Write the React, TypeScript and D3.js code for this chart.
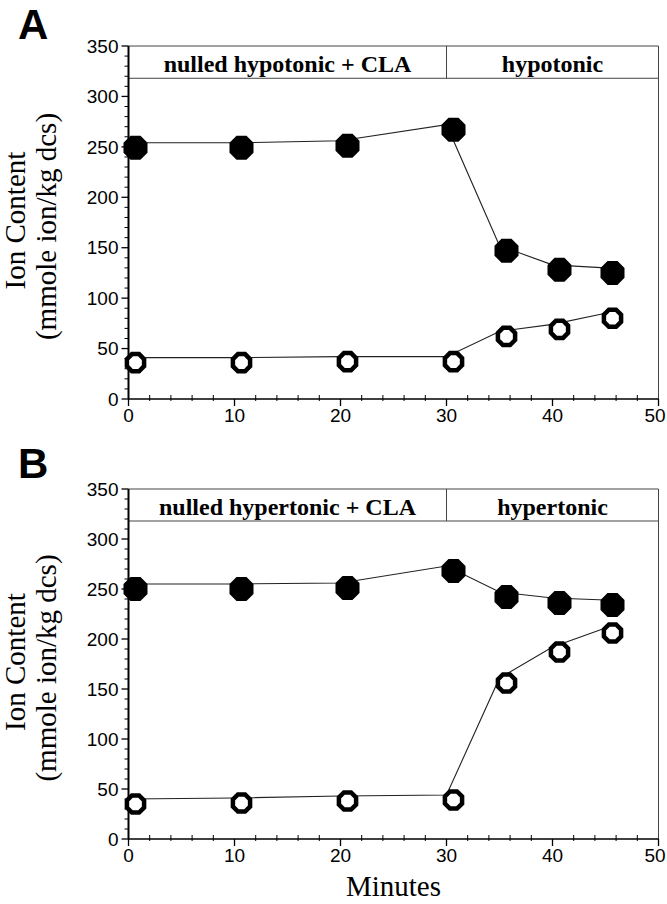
import React from "react";
import * as d3 from "d3";

// ---- data ----
const minutes = [0, 10, 20, 30, 35, 40, 45];
const panelAFilled = [254, 254, 256, 272, 152, 133, 130];
const panelAOpen = [41, 41, 42, 42, 67, 74, 85];
const panelBFilled = [255, 255, 256, 273, 247, 241, 239];
const panelBOpen = [40, 41, 43, 44, 161, 192, 211];
const yTicks = [0, 50, 100, 150, 200, 250, 300, 350];
const xTicks = [0, 10, 20, 30, 40, 50];
const headerA = ["nulled hypotonic + CLA", "hypotonic"];
const headerB = ["nulled hypertonic + CLA", "hypertonic"];
const phaseBoundary = 30;
const headerBottom = 318;

const W = 667;
const H = 904;
const X0 = 128.5;
const X1 = 658.5;

const panels = [
  { letter: "A", letterY: 38.5, yBottom: 399, yTop: 46, filled: panelAFilled, open: panelAOpen, header: headerA },
  { letter: "B", letterY: 478, yBottom: 839, yTop: 489, filled: panelBFilled, open: panelBOpen, header: headerB },
];

const MARKER_DX = 7;
const MARKER_DY = 5;

function octagon(r: number) {
  const pts = d3.range(8).map((k) => {
    const a = (Math.PI / 8) + (k * Math.PI) / 4;
    return [r * Math.cos(a), r * Math.sin(a)] as [number, number];
  });
  return "M" + pts.map((p) => p[0].toFixed(2) + "," + p[1].toFixed(2)).join("L") + "Z";
}

const sans = "'Liberation Sans', Arial, sans-serif";
const serif = "'Liberation Serif', 'Times New Roman', serif";

function Panel({ p }: { p: typeof panels[number] }) {
  const x = d3.scaleLinear().domain([0, 50]).range([X0, X1]);
  const y = d3.scaleLinear().domain([0, 350]).range([p.yBottom, p.yTop]);
  const line = d3
    .line<number>()
    .x((_, i) => x(minutes[i]))
    .y((d) => y(d));
  const yMinor = d3.range(0, 351, 10).filter((v) => v % 50 !== 0);
  const xMinor = d3.range(0, 51, 2).filter((v) => v % 10 !== 0);
  const filledPath = octagon(13);
  const openPath = octagon(9.3);
  const yMid = y(175);
  return (
    <g>
      <text x={18} y={p.letterY} fontFamily={sans} fontWeight="bold" fontSize={42}>
        {p.letter}
      </text>
      {/* y label */}
      <text
        transform={`translate(25,${yMid - 2}) rotate(-90)`}
        textAnchor="middle"
        fontFamily={serif}
        fontSize={29}
      >
        Ion Content
      </text>
      <text
        transform={`translate(56,${yMid + 4}) rotate(-90)`}
        textAnchor="middle"
        fontFamily={serif}
        fontSize={29}
      >
        (mmole ion/kg dcs)
      </text>
      {/* frame */}
      <line x1={x(50)} x2={x(50)} y1={y(350)} y2={y(0)} stroke="#444" strokeWidth={1} />
      <line x1={x(0)} x2={x(50)} y1={y(350)} y2={y(350)} stroke="#444" strokeWidth={1} />
      {/* header box */}
      <line x1={x(0)} x2={x(50)} y1={y(headerBottom)} y2={y(headerBottom)} stroke="#444" strokeWidth={1} />
      <line x1={x(phaseBoundary)} x2={x(phaseBoundary)} y1={y(350)} y2={y(headerBottom)} stroke="#444" strokeWidth={1} />
      <text x={x(phaseBoundary / 2)} y={y(350) + 25.5} textAnchor="middle" fontFamily={serif} fontWeight="bold" fontSize={24}>
        {p.header[0]}
      </text>
      <text x={x((phaseBoundary + 50) / 2)} y={y(350) + 25.5} textAnchor="middle" fontFamily={serif} fontWeight="bold" fontSize={24}>
        {p.header[1]}
      </text>
      {/* y axis */}
      <line x1={x(0)} x2={x(0)} y1={y(350)} y2={y(0)} stroke="#000" strokeWidth={2} />
      {yTicks.map((t) => (
        <g key={"yt" + t}>
          <line x1={x(0) - 7} x2={x(0)} y1={y(t)} y2={y(t)} stroke="#000" strokeWidth={1.3} />
          <text x={x(0) - 10} y={y(t)} dy="0.35em" textAnchor="end" fontFamily={sans} fontSize={19}>
            {t}
          </text>
        </g>
      ))}
      {yMinor.map((t) => (
        <line key={"ym" + t} x1={x(0) - 4} x2={x(0)} y1={y(t)} y2={y(t)} stroke="#000" strokeWidth={1} />
      ))}
      {/* x axis */}
      <line x1={x(0)} x2={x(50)} y1={y(0)} y2={y(0)} stroke="#000" strokeWidth={1.5} />
      {xTicks.map((t) => (
        <g key={"xt" + t}>
          <line x1={x(t)} x2={x(t)} y1={y(0)} y2={y(0) + 7} stroke="#000" strokeWidth={1.3} />
          <text x={Math.min(x(t), W - 12)} y={y(0) + 23} textAnchor="middle" fontFamily={sans} fontSize={19}>
            {t}
          </text>
        </g>
      ))}
      {xMinor.map((t) => (
        <line key={"xm" + t} x1={x(t)} x2={x(t)} y1={y(0) - 4} y2={y(0) + 2} stroke="#000" strokeWidth={1} />
      ))}
      {/* lines */}
      <path d={line(p.filled) || ""} fill="none" stroke="#222" strokeWidth={1.1} />
      <path d={line(p.open) || ""} fill="none" stroke="#222" strokeWidth={1.1} />
      {/* markers */}
      {p.filled.map((v, i) => (
        <path
          key={"f" + i}
          d={filledPath}
          transform={`translate(${x(minutes[i]) + MARKER_DX},${y(v) + MARKER_DY})`}
          fill="#000"
        />
      ))}
      {p.open.map((v, i) => (
        <path
          key={"o" + i}
          d={openPath}
          transform={`translate(${x(minutes[i]) + MARKER_DX},${y(v) + MARKER_DY})`}
          fill="#fff"
          stroke="#000"
          strokeWidth={4.5}
        />
      ))}
    </g>
  );
}

export default function App() {
  return (
    <svg
      width={W}
      height={H}
      viewBox={`0 0 ${W} ${H}`}
      style={{ position: "absolute", left: 0, top: 0, background: "#fff" }}
    >
      <rect width={W} height={H} fill="#fff" />
      {panels.map((p) => (
        <Panel key={p.letter} p={p} />
      ))}
      <text x={(X0 + X1) / 2} y={896} textAnchor="middle" fontFamily={serif} fontSize={29}>
        Minutes
      </text>
    </svg>
  );
}
